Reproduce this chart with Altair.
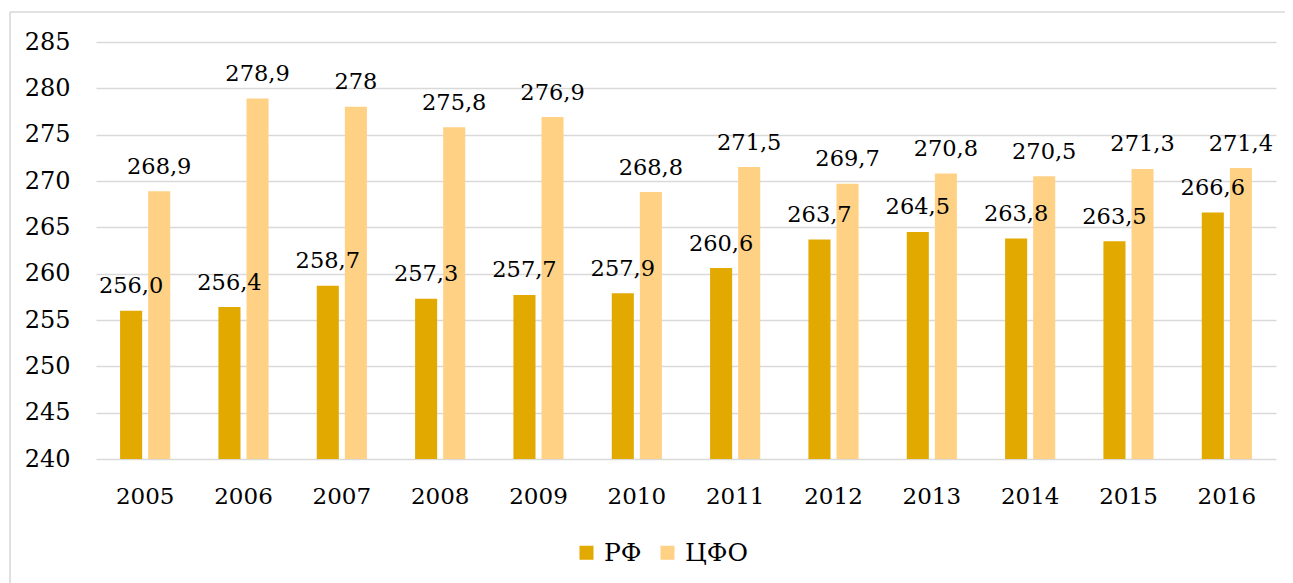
import altair as alt
import pandas as pd

years = ["2005", "2006", "2007", "2008", "2009", "2010", "2011", "2012", "2013", "2014", "2015", "2016"]
series = ["РФ", "ЦФО"]
rf_values = [256.0, 256.4, 258.7, 257.3, 257.7, 257.9, 260.6, 263.7, 264.5, 263.8, 263.5, 266.6]
cfo_values = [268.9, 278.9, 278.0, 275.8, 276.9, 268.8, 271.5, 269.7, 270.8, 270.5, 271.3, 271.4]
rf_labels = ["256,0", "256,4", "258,7", "257,3", "257,7", "257,9", "260,6", "263,7", "264,5", "263,8", "263,5", "266,6"]
cfo_labels = ["268,9", "278,9", "278", "275,8", "276,9", "268,8", "271,5", "269,7", "270,8", "270,5", "271,3", "271,4"]
y_ticks = [240, 245, 250, 255, 260, 265, 270, 275, 280, 285]

rows = []
for i, y in enumerate(years):
    rows.append({"year": y, "series": series[0], "value": rf_values[i], "label": rf_labels[i]})
    rows.append({"year": y, "series": series[1], "value": cfo_values[i], "label": cfo_labels[i]})
df = pd.DataFrame(rows)

FONT = "DejaVu Serif"
W, H = 1180, 417

x_enc = alt.X("year:N", sort=years, title=None,
              scale=alt.Scale(paddingInner=0.49, paddingOuter=0.245),
              axis=alt.Axis(labelFont=FONT, labelFontSize=23, labelColor="#000000",
                            labelAngle=0, labelBaseline="alphabetic", labelPadding=44,
                            ticks=False, tickSize=0, domain=False, grid=False))
xo_enc = alt.XOffset("series:N", sort=series,
                     scale=alt.Scale(paddingInner=0.214, paddingOuter=0))
y_scale = alt.Scale(domain=[240, 285], nice=False, zero=False)

base = alt.Chart(df)

bars = base.mark_bar().encode(
    x=x_enc,
    xOffset=xo_enc,
    y=alt.Y("value:Q", scale=y_scale, title=None,
            axis=alt.Axis(values=y_ticks, labelFont=FONT, labelFontSize=24, labelColor="#000000",
                          labelPadding=26, ticks=False, tickSize=0, domain=False,
                          grid=True, gridColor="#d9d9d9", gridWidth=1.4)),
    y2=alt.datum(240),
    color=alt.Color("series:N", sort=series, title=None,
                    scale=alt.Scale(domain=series, range=["#E2A900", "#FFD185"]),
                    legend=alt.Legend(orient="none", direction="horizontal",
                                      legendX=478, legendY=498, padding=0,
                                      symbolType="square", symbolSize=196, symbolStrokeWidth=0,
                                      labelFont=FONT, labelFontSize=25, labelColor="#000000",
                                      labelOffset=5, columnPadding=13)),
)

labels = base.mark_text(font=FONT, fontSize=22.5, color="#000000",
                        baseline="alphabetic", dy=-17.5).encode(
    x=alt.X("year:N", sort=years),
    xOffset=alt.XOffset("series:N", sort=series),
    y=alt.Y("value:Q", scale=y_scale),
    text="label:N",
)

one = pd.DataFrame({"k": [0]})
frame_top = alt.Chart(one).mark_rule(color="#d9d9d9", strokeWidth=1.6, clip=False).encode(
    x=alt.value(-86), x2=alt.value(1300), y=alt.value(-30)
)
frame_left = alt.Chart(one).mark_rule(color="#d9d9d9", strokeWidth=1.6, clip=False).encode(
    x=alt.value(-86), y=alt.value(-30), y2=alt.value(600)
)

chart = alt.layer(frame_top, frame_left, bars, labels).properties(
    width=W, height=H,
    autosize=alt.AutoSizeParams(type="none"),
    padding={"left": 88, "top": 34, "right": 9, "bottom": 124},
).configure_view(stroke=None)

chart.save("out.html", embed_options={"renderer": "svg", "actions": False})
